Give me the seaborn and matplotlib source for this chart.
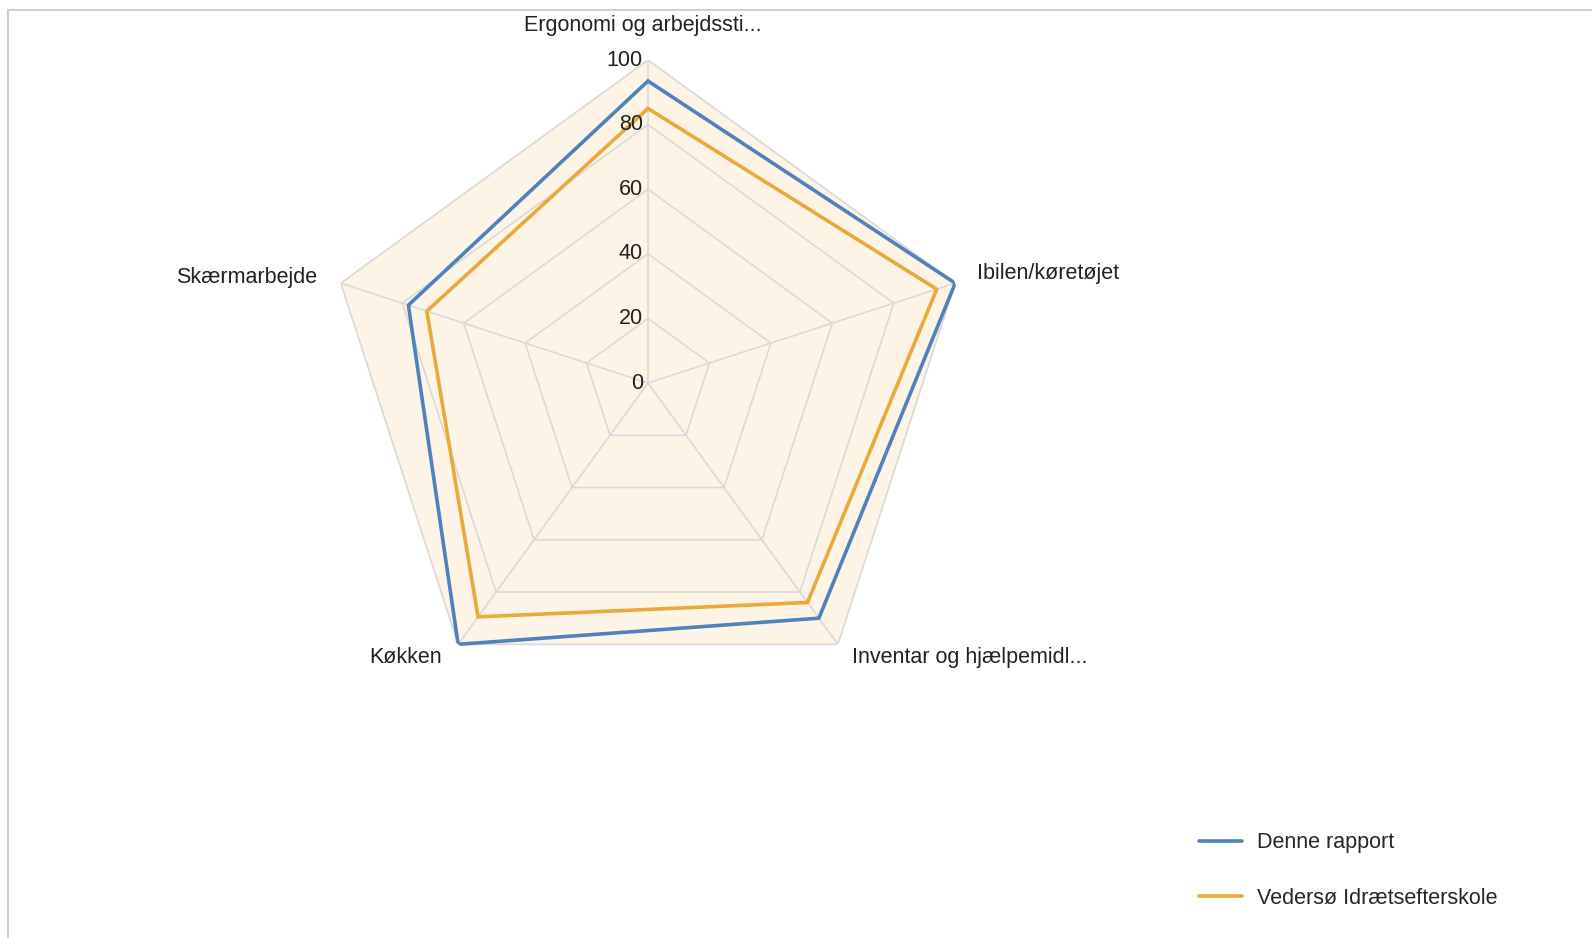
import numpy as np
import matplotlib
matplotlib.use("Agg")
import matplotlib.pyplot as plt
import seaborn as sns
import pandas as pd

categories = ["Ergonomi og arbejdssti...", "Ibilen/køretøjet", "Inventar og hjælpemidl...",
              "Køkken", "Skærmarbejde"]
denne_rapport = [93.5, 100, 90, 100, 78]
vedersoe = [85, 94, 84, 89.5, 72]
series_names = ["Denne rapport", "Vedersø Idrætsefterskole"]
ticks = [0, 20, 40, 60, 80, 100]

sns.set_style("white")
plt.rcParams["font.family"] = ["Liberation Sans", "DejaVu Sans"]
FS = 15.5

fig = plt.figure(figsize=(15.92, 9.38), dpi=100)
W, H = 1592, 938
cx, cy, R = 648, 383, 323
ax = fig.add_axes([(cx - R) / W, (H - cy - R) / H, 2 * R / W, 2 * R / H], projection="polar")
ax.set_theta_offset(np.pi / 2)
ax.set_theta_direction(-1)
ax.set_ylim(0, 100)
ax.grid(False)
ax.set_xticks([])
ax.set_yticks([])
ax.spines["polar"].set_visible(False)
ax.patch.set_alpha(0)

n = len(categories)
theta = np.linspace(0, 2 * np.pi, n, endpoint=False)
theta_c = np.append(theta, theta[0])

grid_col = "#d9d9d9"
ax.fill(theta_c, [ticks[-1]] * (n + 1), color="#fdf4e5", zorder=0)
for t in ticks[1:]:
    ax.plot(theta_c, [t] * (n + 1), color=grid_col, lw=1.2, zorder=1)
for th in theta:
    ax.plot([th, th], [0, ticks[-1]], color=grid_col, lw=1.2, zorder=1)

df = pd.DataFrame({
    "theta": np.concatenate([theta_c, theta_c]),
    "value": denne_rapport + denne_rapport[:1] + vedersoe + vedersoe[:1],
    "serie": [series_names[0]] * (n + 1) + [series_names[1]] * (n + 1),
})
palette = {series_names[0]: "#4f81bd", series_names[1]: "#e9a93b"}
sns.lineplot(data=df, x="theta", y="value", hue="serie", units="serie", estimator=None,
             sort=False, palette=palette, linewidth=2.6, ax=ax, legend=False, zorder=3)
ax.set_xlabel("")
ax.set_ylabel("")

for t in ticks:
    ax.annotate(str(t), (0, t), xytext=(-5, 0), textcoords="offset pixels",
                ha="right", va="center", fontsize=FS, color="#222222", zorder=4)

label_off = [(-5, 35, "center", "center"), (22, 10, "left", "center"),
             (14, -13, "left", "center"), (-16, -13, "right", "center"),
             (-24, 6, "right", "center")]
for th, lab, (dx, dy, ha, va) in zip(theta, categories, label_off):
    ax.annotate(lab, (th, 100), xytext=(dx, dy), textcoords="offset pixels",
                ha=ha, va=va, fontsize=FS, color="#222222")

handles = [plt.Line2D([], [], color=palette[s], lw=2.6) for s in series_names]
fig.legend(handles, series_names, loc="center left", bbox_to_anchor=(1199 / W, 1 - 870.5 / H),
           frameon=False, fontsize=FS, handlelength=2.0, handletextpad=0.7,
           labelspacing=1.6, borderpad=0, borderaxespad=0)

fig.add_artist(plt.Rectangle((8 / W, -0.1), 1.2, (H - 10) / H + 0.1, transform=fig.transFigure,
                             fill=False, edgecolor="#d0d0d0", lw=1.5))

fig.savefig("out.png", dpi=100)
